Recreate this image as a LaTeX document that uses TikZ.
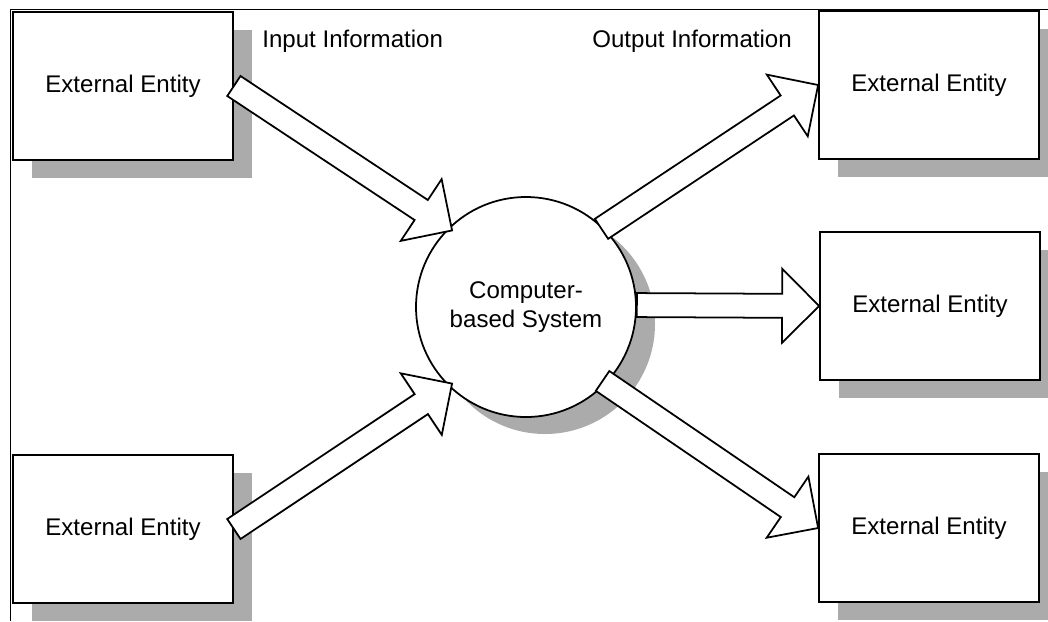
\documentclass[tikz,border=0pt]{standalone}
\usepackage{fontspec}
\setmainfont{Liberation Sans}
\usetikzlibrary{calc,shadows}
\tikzset{
  entity/.style={rectangle,draw=black,fill=white,line width=1pt,minimum width=44mm,minimum height=29.6mm,inner sep=0pt,
    drop shadow={shadow xshift=3.8mm,shadow yshift=-3.6mm,fill=black!33,opacity=1}},
  process/.style={circle,draw=black,fill=white,line width=1pt,minimum size=44mm,inner sep=0pt,align=center,
    drop shadow={shadow xshift=3.8mm,shadow yshift=-3.4mm,fill=black!33,opacity=1}},
  flow/.style={draw=black,fill=white,line width=1pt,line join=miter},
  caption/.style={anchor=base west,inner sep=0pt},
  frame/.style={draw=black,line width=1.1pt},
}
% hollow block arrow from #1 (tail) to #2 (tip)
\newcommand\flowarrow[2]{%
  \coordinate (fa-tail) at (#1);
  \coordinate (fa-tip) at (#2);
  \coordinate (fa-base) at ($(fa-tip)!7.4mm!(fa-tail)$);
  \draw[flow] ($(fa-tail)!2.4mm!90:(fa-tip)$) -- ($(fa-base)!2.4mm!90:(fa-tip)$)
    -- ($(fa-base)!7.4mm!90:(fa-tip)$) -- (fa-tip)
    -- ($(fa-base)!7.4mm!-90:(fa-tip)$) -- ($(fa-base)!2.4mm!-90:(fa-tip)$)
    -- ($(fa-tail)!2.4mm!-90:(fa-tip)$) -- cycle;
}

\begin{document}
\begin{tikzpicture}[x=0.2mm,y=-0.2mm,font=\fontsize{13.7pt}{16.5pt}\selectfont]
  \useasboundingbox (0,0) rectangle (1048,621);
  \draw[frame] (10.5,621) -- (10.5,9.5) -- (1048,9.5);
  % entities
  \node[entity] (src1) at (123,86) {External Entity};
  \node[entity] (src2) at (123,529) {External Entity};
  \node[entity] (dst1) at (929,85) {External Entity};
  \node[entity] (dst2) at (930,306) {External Entity};
  \node[entity] (dst3) at (929,528) {External Entity};
  % system
  \node[process] (sys) at (526,307) {Computer-\\based System};
  \coordinate (in1) at ($(sys.center)!0.96!(sys.134)$);
  \coordinate (in2) at ($(sys.center)!0.96!(sys.226)$);
  \coordinate (out1) at ($(sys.center)!0.98!(sys.46)$);
  \coordinate (out2) at (sys.1);
  \coordinate (out3) at ($(sys.center)!0.96!(sys.-44)$);
  % flows
  \flowarrow{src1.east}{in1}
  \flowarrow{src2.east}{in2}
  \flowarrow{out1}{dst1.west}
  \flowarrow{out2}{dst2.west}
  \flowarrow{out3}{dst3.west}
  \node[caption] (inlbl) at (262,47) {Input Information};
  \node[caption] (outlbl) at (592,47) {Output Information};
\end{tikzpicture}
\end{document}
